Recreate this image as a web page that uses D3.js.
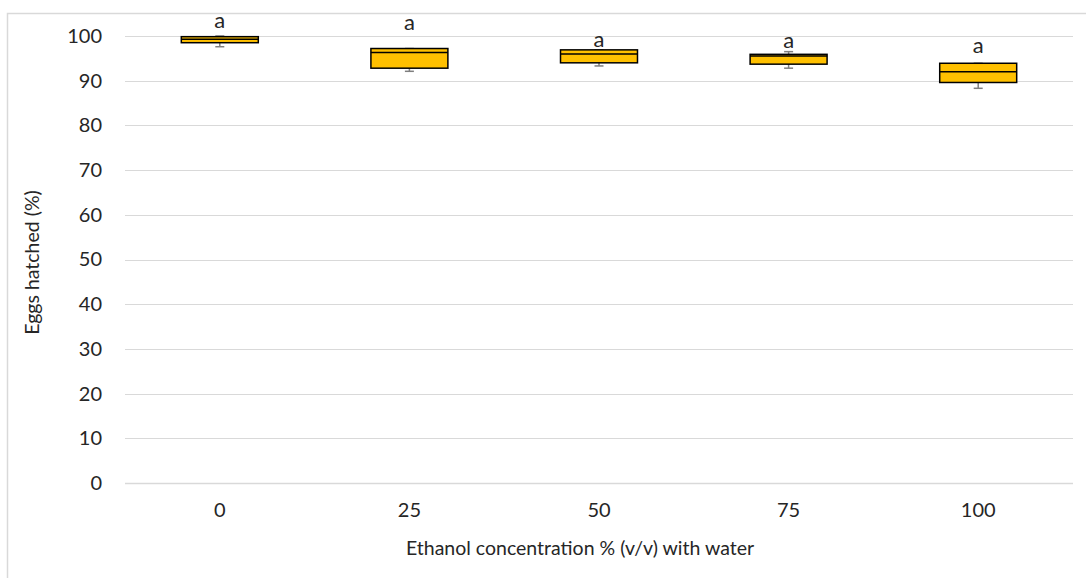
<!DOCTYPE html>
<html>
<head>
<meta charset="utf-8">
<script src="https://cdn.jsdelivr.net/npm/d3@7"></script>
<style>
  body { margin: 0; background: #fff; }
  svg text { font-family: Lato, "Liberation Sans", sans-serif; fill: #262626; }
</style>
</head>
<body>
<script>
// data
var categories = ["0", "25", "50", "75", "100"];
var whiskerLow = [97.6, 92.1, 93.3, 92.8, 88.3];
var q1 = [98.5, 92.8, 94.0, 93.7, 89.6];
var median = [99.3, 96.3, 96.0, 95.5, 92.0];
var q3 = [99.85, 97.2, 96.9, 95.9, 93.9];
var whiskerHigh = [100, 97.2, 96.9, 96.5, 93.9];
var letters = ["a", "a", "a", "a", "a"];
var letterY = [103.6, 103.0, 99.2, 99.1, 97.9];
var yTicks = [0, 10, 20, 30, 40, 50, 60, 70, 80, 90, 100];

var W = 1086, H = 578;
var margin = {top: 36, right: 13, bottom: 95, left: 125};

var svg = d3.select("body").append("svg")
  .attr("width", W)
  .attr("height", H);

// chart area border (left + top only visible)
svg.append("path")
  .attr("d", "M7.5," + H + "V13.5H" + W)
  .attr("fill", "none")
  .attr("stroke", "#d9d9d9")
  .attr("stroke-width", 1.5);

var x = d3.scaleBand().domain(categories).range([margin.left, W - margin.right]).padding(0);
var y = d3.scaleLinear().domain([0, 100]).range([H - margin.bottom, margin.top]);

// gridlines
svg.append("g").selectAll("line").data(yTicks).enter().append("line")
  .attr("x1", margin.left)
  .attr("x2", W - margin.right)
  .attr("y1", function(d) { return Math.round(y(d)) + 0.5; })
  .attr("y2", function(d) { return Math.round(y(d)) + 0.5; })
  .attr("stroke", "#d9d9d9")
  .attr("stroke-width", function(d) { return d == 0 ? 1.5 : 1; });

// y axis labels
var yAxis = svg.append("g")
  .attr("transform", "translate(" + margin.left + ",0)")
  .call(d3.axisLeft(y).tickValues(yTicks).tickSize(0).tickPadding(23));
yAxis.select(".domain").remove();
yAxis.selectAll("text").style("font-size", "20px").attr("fill", "#262626");

// x axis labels
var xAxis = svg.append("g")
  .attr("transform", "translate(0," + y(0) + ")")
  .call(d3.axisBottom(x).tickSize(0).tickPadding(20));
xAxis.select(".domain").remove();
xAxis.selectAll("text").style("font-size", "20px").attr("fill", "#262626");

// axis titles
svg.append("text")
  .attr("x", 580)
  .attr("y", 555)
  .attr("text-anchor", "middle")
  .style("font-size", "19.5px")
  .text("Ethanol concentration % (v/v) with water");

svg.append("text")
  .attr("transform", "translate(39," + ((y(0) + y(100)) / 2 + 3) + ") rotate(-90)")
  .attr("text-anchor", "middle")
  .style("font-size", "19.5px")
  .text("Eggs hatched (%)");

// boxes
var boxW = x.bandwidth() * 0.406;
var capW = 9;
var g = svg.append("g");

categories.forEach(function(c, i) {
  var cx = x(c) + x.bandwidth() / 2;
  // whiskers
  g.append("line")
    .attr("x1", cx).attr("x2", cx)
    .attr("y1", y(whiskerLow[i])).attr("y2", y(q1[i]))
    .attr("stroke", "#7f7f7f").attr("stroke-width", 1.5);
  g.append("line")
    .attr("x1", cx).attr("x2", cx)
    .attr("y1", y(whiskerHigh[i])).attr("y2", y(q3[i]))
    .attr("stroke", "#7f7f7f").attr("stroke-width", 1.5);
  [whiskerLow[i], whiskerHigh[i]].forEach(function(v) {
    g.append("line")
      .attr("x1", cx - capW / 2).attr("x2", cx + capW / 2)
      .attr("y1", y(v)).attr("y2", y(v))
      .attr("stroke", "#7f7f7f").attr("stroke-width", 1.5);
  });
  // box
  g.append("rect")
    .attr("x", cx - boxW / 2)
    .attr("y", y(q3[i]))
    .attr("width", boxW)
    .attr("height", y(q1[i]) - y(q3[i]))
    .attr("fill", "#ffc000")
    .attr("stroke", "#000")
    .attr("stroke-width", 1.5);
  // median
  g.append("line")
    .attr("x1", cx - boxW / 2).attr("x2", cx + boxW / 2)
    .attr("y1", y(median[i])).attr("y2", y(median[i]))
    .attr("stroke", "#000").attr("stroke-width", 1.5);
  // letter
  g.append("text")
    .attr("x", cx)
    .attr("y", y(letterY[i]))
    .attr("dy", "0.35em")
    .attr("text-anchor", "middle")
    .style("font-size", "22px")
    .text(letters[i]);
});
</script>
</body>
</html>
